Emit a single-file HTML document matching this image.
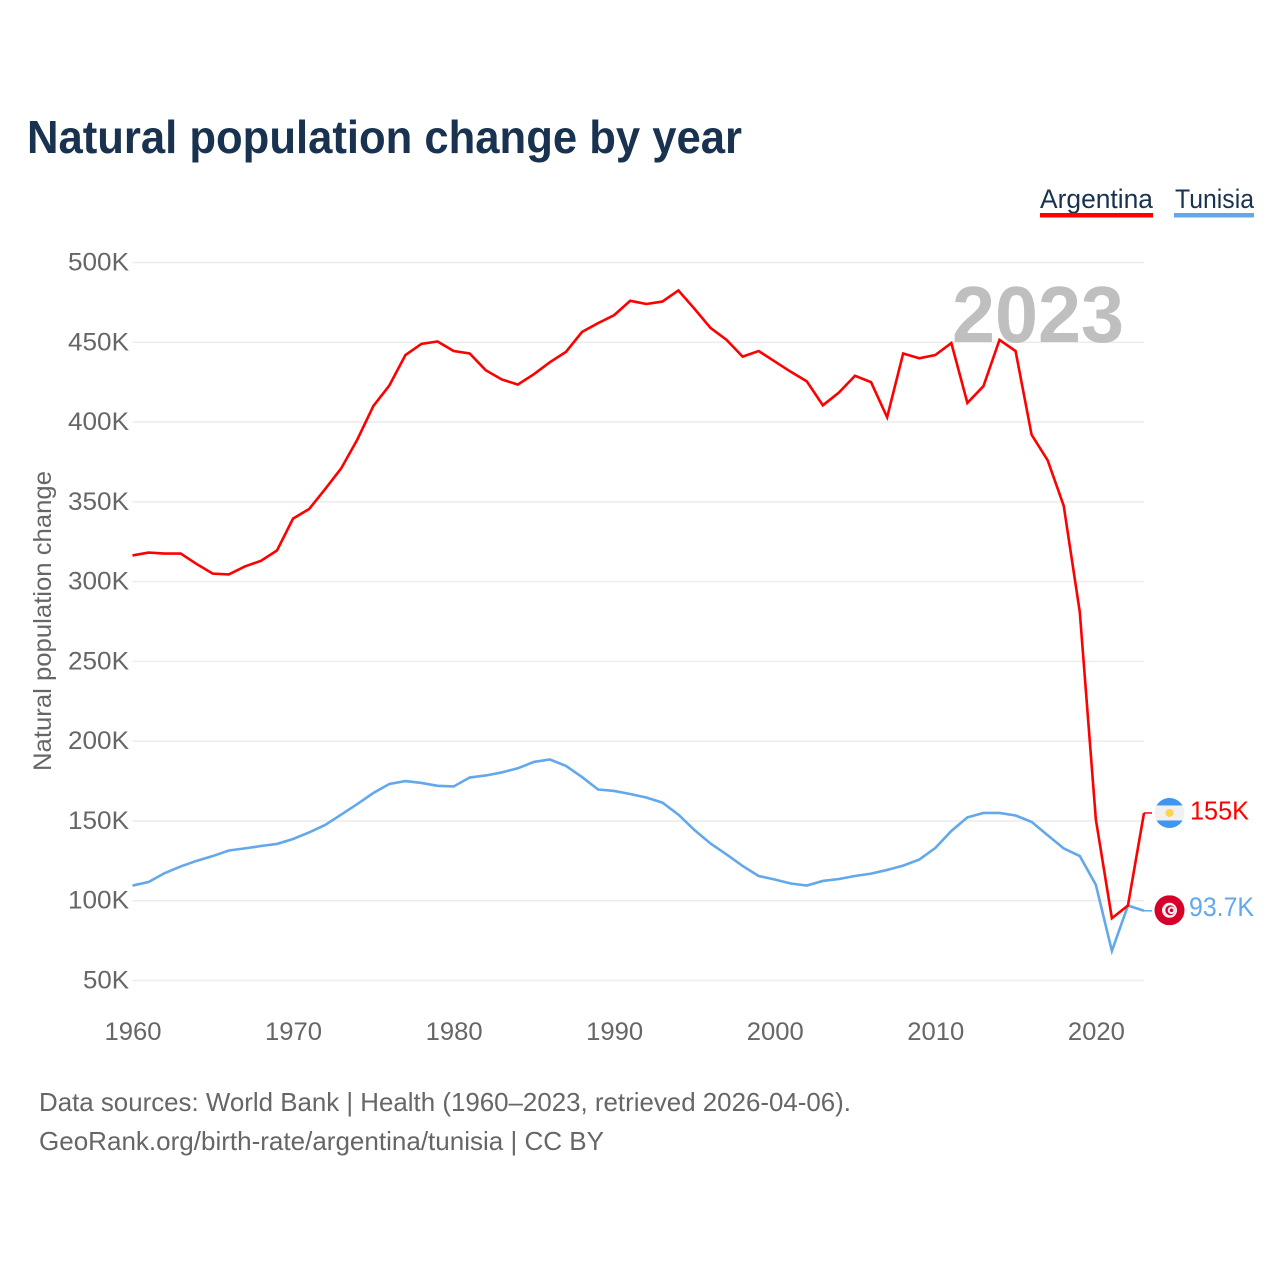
<!DOCTYPE html>
<html lang="en">
<head>
<meta charset="utf-8">
<title>Natural population change by year</title>
<style>
html,body{margin:0;padding:0;background:#fff;}
svg{display:block;font-family:"Liberation Sans",sans-serif;}
</style>
</head>
<body>
<svg id="chart" xmlns="http://www.w3.org/2000/svg" width="1280" height="1280" viewBox="0 0 1280 1280">
  <rect x="0" y="0" width="1280" height="1280" fill="#ffffff"/>
  <text x="27" y="153" font-size="46" font-weight="700" fill="#18324f" textLength="715" lengthAdjust="spacingAndGlyphs">Natural population change by year</text>

  <g id="legend">
    <g>
      <text x="1040" y="208" font-size="27" fill="#18324f" textLength="113" lengthAdjust="spacingAndGlyphs">Argentina</text>
      <rect x="1040" y="213" width="113" height="4.5" fill="#ff0000"/>
    </g>
    <g>
      <text x="1175" y="208" font-size="27" fill="#18324f" textLength="79" lengthAdjust="spacingAndGlyphs">Tunisia</text>
      <rect x="1174" y="213" width="80" height="4.5" fill="#62a8ea"/>
    </g>
  </g>

  <g id="grid"></g>
  <text x="1124" y="342" font-size="80" font-weight="700" fill="#bfbfbf" text-anchor="end" textLength="172" lengthAdjust="spacingAndGlyphs">2023</text>
  <g id="yticks"></g>
  <g id="xticks"></g>
  <text transform="translate(51 621) rotate(-90)" font-size="25" fill="#666666" text-anchor="middle" textLength="300" lengthAdjust="spacingAndGlyphs">Natural population change</text>
  <g id="series"></g>

  <defs>
    <clipPath id="flag-clip-ar"><circle cx="0" cy="0" r="15"/></clipPath>
    <clipPath id="flag-clip-tn"><circle cx="0" cy="0" r="15"/></clipPath>
  </defs>

  <g id="flag-ar">
    <g clip-path="url(#flag-clip-ar)">
      <rect x="-15" y="-15" width="30" height="30" fill="#f0f0f0"/>
      <rect x="-15" y="-15" width="30" height="7.5" fill="#3f95f2"/>
      <rect x="-15" y="7.5" width="30" height="7.5" fill="#3f95f2"/>
      <circle cx="0" cy="0" r="4" fill="#ffd34d"/>
    </g>
  </g>
  <g id="flag-tn">
    <g clip-path="url(#flag-clip-tn)">
      <rect x="-15" y="-15" width="30" height="30" fill="#d6002a"/>
      <circle cx="0" cy="0" r="7.5" fill="#f3f3f3"/>
      <circle cx="0.8" cy="0" r="5" fill="#d6002a"/>
      <circle cx="2" cy="0" r="3.8" fill="#f3f3f3"/>
      <circle cx="2" cy="0" r="1.8" fill="#d6002a"/>
    </g>
  </g>
  <text id="end-label-ar" x="1190" font-size="26" fill="#ff0000" textLength="59" lengthAdjust="spacingAndGlyphs"></text>
  <text id="end-label-tn" x="1189" font-size="27" fill="#62a8ea" textLength="65" lengthAdjust="spacingAndGlyphs"></text>

  <g>
    <text x="39" y="1111" font-size="26" fill="#666666" textLength="812" lengthAdjust="spacingAndGlyphs">Data sources: World Bank | Health (1960–2023, retrieved 2026-04-06).</text>
    <text x="39" y="1150" font-size="26" fill="#666666" textLength="565" lengthAdjust="spacingAndGlyphs">GeoRank.org/birth-rate/argentina/tunisia | CC BY</text>
  </g>
</svg>
<script>
const startYear = 1960;
const argentinaValues = [316.4,318.2,317.6,317.6,311,305,304.5,309.5,313,319.5,339.5,345.5,358,371,389,410,423,442,449,450.5,444.5,443,432.5,426.7,423.5,430,437.5,444,456.5,462,467,476,474,475.5,482.5,471,459,451.5,441,444.5,438,431.5,425.5,410.5,418.5,429,425,403,443,440,442,449.5,412,422.5,451.5,444.5,392,376,347.5,281,151,89,97,155];
const tunisiaValues = [109.5,111.7,117.3,121.5,125,128,131.5,132.8,134.3,135.6,138.7,142.8,147.5,154,160.6,167.5,173.2,175,173.8,172,171.6,177.2,178.5,180.4,183,187,188.5,184.5,177.5,169.7,168.8,166.9,164.7,161.5,154,144.3,135.9,129,121.8,115.5,113.3,110.8,109.5,112.4,113.6,115.5,117,119.3,122,125.8,133,143.7,152.2,155,155,153.4,149.4,141,132.8,128,110,68.5,97,93.7];
const yTickValues = [500,450,400,350,300,250,200,150,100,50];
const xTickYears = [1960,1970,1980,1990,2000,2010,2020];

const NS = 'http://www.w3.org/2000/svg';
function xScale(year){ return 132.5 + (year - 1960) * (1144 - 132.5) / 63; }
function yScale(v){ return 262.5 + (500 - v) * (980.5 - 262.5) / 450; }
function fmt(v){ return (v >= 100 ? String(Math.round(v)) : v.toFixed(1)) + 'K'; }

const grid = document.getElementById('grid');
const yticks = document.getElementById('yticks');
const xticks = document.getElementById('xticks');
const series = document.getElementById('series');

yTickValues.forEach(function(v){
  const line = document.createElementNS(NS, 'line');
  
  
  line.setAttribute('x1', 132.5);
  line.setAttribute('x2', 1144);
  line.setAttribute('y1', yScale(v));
  line.setAttribute('y2', yScale(v));
  line.setAttribute('stroke', '#ececec');
  line.setAttribute('stroke-width', '1.5');
  grid.appendChild(line);

  const label = document.createElementNS(NS, 'text');
  
  
  label.setAttribute('x', 129);
  label.setAttribute('y', yScale(v) + 8);
  label.setAttribute('font-size', '25');
  label.setAttribute('fill', '#666666');
  label.setAttribute('text-anchor', 'end');
  label.setAttribute('textLength', v >= 100 ? '61' : '46');
  label.setAttribute('lengthAdjust', 'spacingAndGlyphs');
  label.textContent = v + 'K';
  yticks.appendChild(label);
});

xTickYears.forEach(function(year){
  const label = document.createElementNS(NS, 'text');
  
  
  label.setAttribute('x', xScale(year) + 0.5);
  label.setAttribute('y', 1040);
  label.setAttribute('font-size', '25');
  label.setAttribute('fill', '#666666');
  label.setAttribute('text-anchor', 'middle');
  label.setAttribute('textLength', '57');
  label.setAttribute('lengthAdjust', 'spacingAndGlyphs');
  label.textContent = year;
  xticks.appendChild(label);
});

function linePoints(values){
  return values.map(function(v, i){
    return xScale(startYear + i).toFixed(2) + ',' + yScale(v).toFixed(2);
  }).join(' ');
}

const tunisiaLine = document.createElementNS(NS, 'polyline');


tunisiaLine.setAttribute('points', linePoints(tunisiaValues));
tunisiaLine.setAttribute('fill', 'none');
tunisiaLine.setAttribute('stroke', '#62a8ea');
tunisiaLine.setAttribute('stroke-width', '2.6');
tunisiaLine.setAttribute('stroke-linejoin', 'miter');
series.appendChild(tunisiaLine);

const argentinaLine = document.createElementNS(NS, 'polyline');


argentinaLine.setAttribute('points', linePoints(argentinaValues));
argentinaLine.setAttribute('fill', 'none');
argentinaLine.setAttribute('stroke', '#ff0000');
argentinaLine.setAttribute('stroke-width', '2.6');
argentinaLine.setAttribute('stroke-linejoin', 'miter');
series.appendChild(argentinaLine);

const lastA = argentinaValues[argentinaValues.length - 1];
const lastT = tunisiaValues[tunisiaValues.length - 1];

const connectorA = document.createElementNS(NS, 'line');


connectorA.setAttribute('x1', 1144);
connectorA.setAttribute('x2', 1152);
connectorA.setAttribute('y1', yScale(lastA));
connectorA.setAttribute('y2', yScale(lastA));
connectorA.setAttribute('stroke', '#ff0000');
connectorA.setAttribute('stroke-width', '1.5');
series.appendChild(connectorA);

const connectorT = document.createElementNS(NS, 'line');


connectorT.setAttribute('x1', 1144);
connectorT.setAttribute('x2', 1152);
connectorT.setAttribute('y1', yScale(lastT));
connectorT.setAttribute('y2', yScale(lastT));
connectorT.setAttribute('stroke', '#62a8ea');
connectorT.setAttribute('stroke-width', '1.5');
series.appendChild(connectorT);

document.getElementById('flag-ar').setAttribute('transform', 'translate(1169.5 ' + yScale(lastA) + ')');
document.getElementById('flag-tn').setAttribute('transform', 'translate(1169.5 ' + (yScale(lastT) - 0.5) + ')');

const endA = document.getElementById('end-label-ar');
endA.setAttribute('y', yScale(lastA) + 6.5);
endA.textContent = fmt(lastA);

const endT = document.getElementById('end-label-tn');
endT.setAttribute('y', yScale(lastT) + 7);
endT.setAttribute('dy', '-2');
endT.textContent = fmt(lastT);
</script>
</body>
</html>
